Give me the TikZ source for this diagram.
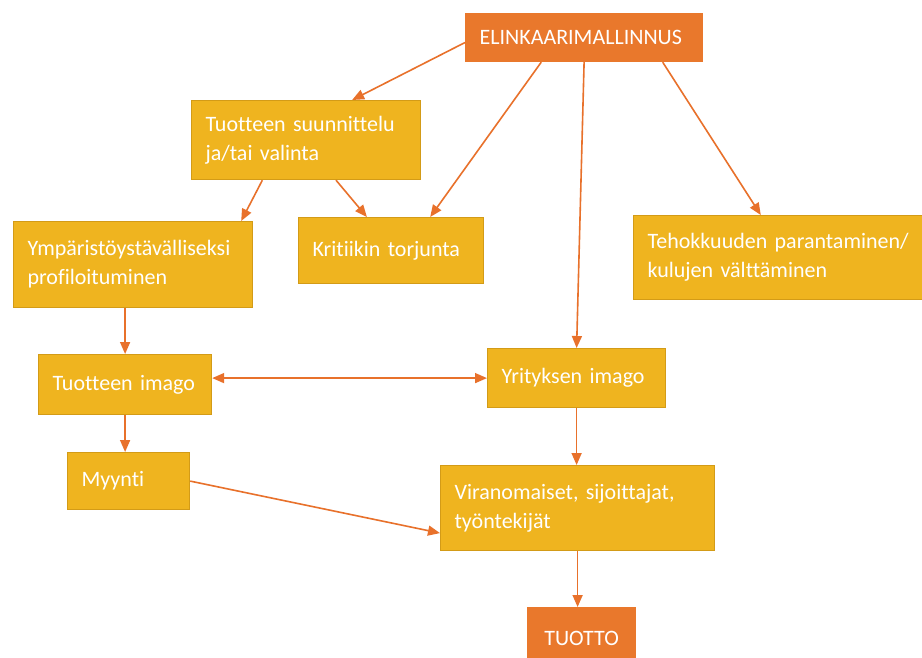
\documentclass[tikz,border=0pt]{standalone}
\usepackage{fontspec}
\setmainfont{Carlito}[Ligatures=NoCommon]
\usetikzlibrary{positioning, calc, arrows.meta}

\definecolor{boxgold}{HTML}{EFB41F}
\definecolor{boxedge}{HTML}{D39B17}
\definecolor{headorange}{HTML}{E9782C}
\definecolor{linkorange}{HTML}{E8712B}

\begin{document}
\begin{tikzpicture}[
		x=0.5pt, y=-0.5pt,
		font=\fontsize{11}{14.5}\selectfont,
		% Style for the yellow stage boxes
		stage/.style={fill=boxgold, draw=boxedge, line width=0.6pt, text=white,
			align=left, anchor=north west, inner xsep=7pt, inner ysep=3pt},
		% Style for the orange start and end boxes
		headbox/.style={stage, fill=headorange, draw=headorange},
		% Arrows between the boxes
		link/.style={draw=linkorange, line width=0.8pt, -{Triangle[length=6pt, width=5pt]}},
		link both/.style={link, {Triangle[length=6pt, width=5pt]}-{Triangle[length=6pt, width=5pt]}}
		]
		
		\fill[white] (0,0) rectangle (922,658);
		\useasboundingbox (0,0) rectangle (922,658);
		
		% Top of the tree
		\node[headbox, text width=104.5pt, minimum height=24pt] (elink) at (465,13) {ELINKAARIMALLINNUS};
		
		% First level
		\node[stage, text width=100.5pt, minimum height=39.5pt] (suunn) at (191,100) {Tuotteen suunnittelu\\ja/tai valinta};
		\node[stage, text width=105.5pt, minimum height=43pt] (ymp) at (13,221) {Ympäristöystävälliseksi\\profiloituminen};
		\node[stage, text width=78.5pt, minimum height=33pt] (krit) at (298,217) {Kritiikin torjunta};
		\node[stage, text width=134pt, minimum height=42pt] (teho) at (633,215) {Tehokkuuden parantaminen/\\kulujen välttäminen};
		
		% Image boxes
		\node[stage, text width=72.5pt, minimum height=30pt] (timago) at (38,354) {Tuotteen imago};
		\node[stage, text width=75pt, minimum height=29.5pt] (yimago) at (487,348) {Yrityksen imago};
		
		% Towards the result
		\node[stage, text width=47pt, minimum height=28.5pt] (myynti) at (67,452) {Myynti};
		\node[stage, text width=123pt, minimum height=42.5pt] (viran) at (440,465) {Viranomaiset, sijoittajat,\\työntekijät};
		\node[headbox, text width=40pt, minimum height=31pt, align=center] (tuotto) at (527,607) {TUOTTO};
		
		% Arrows out of the top box
		\draw[link] ($(elink.north west)!0.6!(elink.south west)$) -- ($(suunn.north west)!0.70!(suunn.north east)$);
		\draw[link] ($(elink.south west)!0.32!(elink.south east)$) -- ($(krit.north west)!0.71!(krit.north east)$);
		\draw[link] (elink.south) -- (yimago.north);
		\draw[link] ($(elink.south west)!0.83!(elink.south east)$) -- ($(teho.north west)!0.43!(teho.north east)$);
		
		% Arrows out of the design box
		\draw[link] ($(suunn.south west)!0.31!(suunn.south east)$) -- ($(ymp.north west)!0.95!(ymp.north east)$);
		\draw[link] ($(suunn.south west)!0.63!(suunn.south east)$) -- ($(krit.north west)!0.37!(krit.north east)$);
		
		% Left column and the link between the two images
		\draw[link] (timago.north |- ymp.south) -- (timago.north);
		\draw[link both] (timago.east |- yimago.west) -- (yimago.west);
		\draw[link] (timago.south) -- (timago.south |- myynti.north);
		
		% Right column
		\draw[link] (yimago.south) -- (yimago.south |- viran.north);
		\draw[link] (myynti.east) -- ($(viran.north west)!0.79!(viran.south west)$);
		\draw[link] (viran.south) -- (viran.south |- tuotto.north);
	\end{tikzpicture}
\end{document}
